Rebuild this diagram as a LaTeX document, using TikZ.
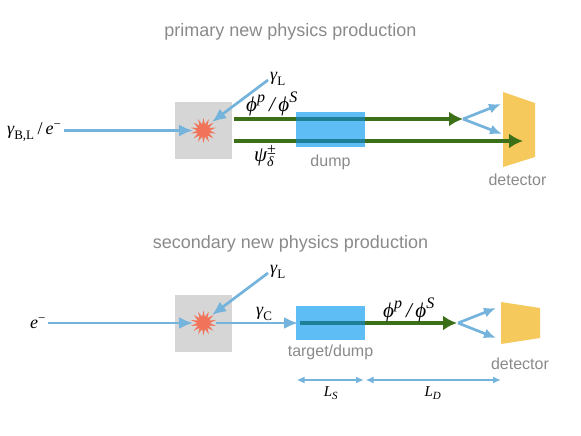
\documentclass[tikz,border=0pt]{standalone}
\usepackage{fontspec}
\setmainfont{Liberation Serif}
\newfontfamily\labelsans{Liberation Sans}
\usetikzlibrary{arrows.meta,shapes.geometric}
\definecolor{lblue}{HTML}{74B3DB}
\definecolor{dumpblue}{HTML}{5FBDF5}
\definecolor{lgreen}{HTML}{3B7019}
\definecolor{teal}{HTML}{1E7F96}
\definecolor{lgray}{HTML}{D6D6D6}
\definecolor{txtgray}{HTML}{8A8A8A}
\definecolor{lyellow}{HTML}{F6C95C}
\definecolor{lred}{HTML}{F0735A}
\newcommand{\lgm}[1]{\fontsize{21}{21}\selectfont\itshape #1}
\newcommand{\mysub}[1]{\hbox{\fontsize{13}{13}\selectfont #1}}
\newcommand{\mysup}[1]{\hbox{\fontsize{16}{16}\selectfont #1}}
\newcommand{\mymath}[1]{\fontsize{18}{18}\selectfont #1}
\tikzset{
  titletext/.style={font=\labelsans\fontsize{18}{18}\selectfont,text=txtgray,inner sep=0pt},
  captext/.style={font=\labelsans\fontsize{16}{16}\selectfont,text=txtgray,inner sep=0pt},
  mlabel/.style={inner sep=0pt,text=black},
  beam/.style={lblue,line width=2.7pt,-{Latex[length=14pt,width=12pt]}},
  decay/.style={lblue,line width=2.7pt,-{Latex[length=12pt,width=10pt]}},
  gbeam/.style={lgreen,line width=3.4pt,-{Latex[length=14pt,width=15pt]}},
  tealseg/.style={teal,line width=3.4pt},
  dimline/.style={lblue,line width=1.8pt,{Latex[length=8pt,width=7pt]}-{Latex[length=8pt,width=7pt]}},
  grayb/.style={fill=lgray,draw=none,minimum width=57pt,minimum height=57pt,inner sep=0pt},
  dumpb/.style={fill=dumpblue,draw=none,minimum width=69pt,inner sep=0pt},
  burst/.style={star,star points=14,star point ratio=2,minimum size=25pt,inner sep=0pt,fill=lred,draw=none},
  detb/.style={fill=lyellow,draw=none}
}
\begin{document}
\begin{tikzpicture}[x=1pt,y=-1pt]
\useasboundingbox (0,0) rectangle (581,436);
% ---- top
\node[titletext] (t1) at (290.5,32) {primary new physics production};
\node[grayb] (box1) at (203.5,130.5) {};
\node[burst] (star1) at (203.5,130.5) {};
\coordinate (g1s) at (234,119);
\coordinate (g1e) at (463,119);
\coordinate (g2s) at (234,141);
\coordinate (g2e) at (523,141);
\draw[detb] (503,92) -- (535,103) -- (535,157) -- (503,167) -- cycle;
\node[dumpb,minimum height=35pt] (dump1) at (330.5,129.5) {};
\draw[gbeam] (g1s) -- (g1e);
\draw[gbeam] (g2s) -- (g2e);
\draw[tealseg] (dump1.west |- g1s) -- (dump1.east |- g1s);
\draw[tealseg] (dump1.west |- g2s) -- (dump1.east |- g2s);
\coordinate (b1s) at (63.5,130.5);
\coordinate (b1e) at (193,130.5);
\draw[beam] (b1s) -- (b1e);
\coordinate (l1s) at (268,80);
\coordinate (l1e) at (212,122);
\draw[beam] (l1s) -- (l1e);
\coordinate (d1a) at (501,104);
\coordinate (d1b) at (502,134);
\coordinate (d1o) at (463,119);
\draw[decay] (d1o) -- (d1a);
\draw[decay] (d1o) -- (d1b);
\node[mlabel,anchor=west] (gl1) at (270,79) {\mymath{$\hbox{\itshape γ}_{\mysub{L}}$}};
\node[mlabel,anchor=west] (gb) at (7,132) {\mymath{$\hbox{\itshape γ}_{\mysub{B,L}}$\,/\,$\hbox{\itshape e}^{\mysub{−}}$}};
\node[mlabel,anchor=west] (ph1) at (246,104) {\lgm{$\hbox{ϕ}^{\mysup{\itshape p}}$\,/\,$\hbox{ϕ}^{\mysup{\itshape S}}$}};
\node[mlabel,anchor=west] (psi) at (254,156) {\lgm{$\hbox{ψ}^{\mysup{\upshape ±}}_{\hbox{\fontsize{14}{14}\selectfont\itshape δ}}$}};
\node[captext] (c1) at (330.5,162) {dump};
\node[captext] (c2) at (517.5,179.5) {detector};
% ---- bottom
\node[titletext] (t2) at (290.5,244) {secondary new physics production};
\node[grayb] (box2) at (203.5,323) {};
\node[burst] (star2) at (203.5,323) {};
\draw[detb] (501,302) -- (540,308) -- (540,338) -- (501,344) -- cycle;
\coordinate (es) at (47.5,323);
\coordinate (ee) at (193,323);
\draw[beam] (es) -- (ee);
\coordinate (l2s) at (268,273);
\coordinate (l2e) at (212,315);
\draw[beam] (l2s) -- (l2e);
\coordinate (gcs) at (216,323);
\coordinate (gce) at (298,323);
\draw[beam] (gcs) -- (gce);
\node[dumpb,minimum height=34pt] (dump2) at (330.5,323) {};
\coordinate (g3s) at (300,323);
\coordinate (g3e) at (457,323);
\draw[gbeam] (g3s) -- (g3e);
\draw[tealseg] (g3s) -- (dump2.east |- g3s);
\coordinate (d2o) at (458,323);
\coordinate (d2a) at (496,308);
\coordinate (d2b) at (496,338);
\draw[decay] (d2o) -- (d2a);
\draw[decay] (d2o) -- (d2b);
\node[mlabel,anchor=west] (gl2) at (270,272) {\mymath{$\hbox{\itshape γ}_{\mysub{L}}$}};
\node[mlabel,anchor=west] (em) at (30,323) {\mymath{$\hbox{\itshape e}^{\mysub{−}}$}};
\node[mlabel,anchor=west] (gc) at (256,314) {\mymath{$\hbox{\itshape γ}_{\mysub{C}}$}};
\node[mlabel,anchor=west] (ph2) at (383,310) {\lgm{$\hbox{ϕ}^{\mysup{\itshape p}}$\,/\,$\hbox{ϕ}^{\mysup{\itshape S}}$}};
\node[captext] (c3) at (330.5,352.5) {target/dump};
\node[captext] (c4) at (520,364) {detector};
\coordinate (ls1) at (296.5,380);
\coordinate (ls2) at (364,380);
\coordinate (ld1) at (365.5,380);
\coordinate (ld2) at (501,380);
\draw[dimline] (ls1) -- (ls2);
\draw[dimline] (ld1) -- (ld2);
\node[mlabel] (ls) at (331,393) {\fontsize{15}{15}\selectfont $\hbox{\itshape L}_{\hbox{\fontsize{11}{11}\selectfont\itshape S}}$};
\node[mlabel] (ld) at (433,393) {\fontsize{15}{15}\selectfont $\hbox{\itshape L}_{\hbox{\fontsize{11}{11}\selectfont\itshape D}}$};
\end{tikzpicture}
\end{document}
